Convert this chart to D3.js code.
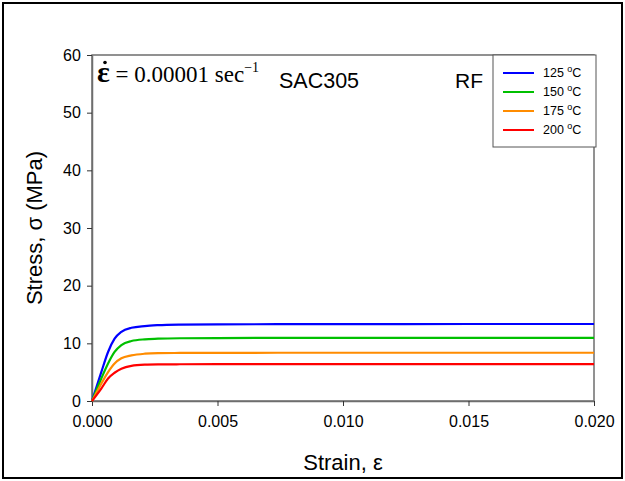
<!DOCTYPE html>
<html><head><meta charset="utf-8">
<script src="https://cdn.jsdelivr.net/npm/d3@7"></script>
<style>body{margin:0;background:#fff}svg{display:block}</style>
</head><body><svg id="c" width="625" height="481" font-family="'Liberation Sans',Arial,sans-serif"></svg>
<script>
const strain = [0, 0.00037, 0.00064, 0.0009, 0.00117, 0.00157, 0.0021, 0.00263, 0.0035, 0.005, 0.01, 0.015, 0.02];
const stress125 = [0, 5.0, 8.5, 10.8, 12.0, 12.7, 13.0, 13.15, 13.25, 13.3, 13.33, 13.35, 13.35];
const stress150 = [0, 3.9, 6.5, 8.5, 9.7, 10.4, 10.7, 10.8, 10.88, 10.92, 10.95, 10.95, 10.95];
const stress175 = [0, 3.0, 5.0, 6.5, 7.4, 7.9, 8.2, 8.3, 8.33, 8.35, 8.37, 8.37, 8.37];
const stress200 = [0, 2.15, 3.9, 4.9, 5.6, 6.1, 6.3, 6.35, 6.37, 6.38, 6.38, 6.38, 6.38];
const seriesNames = ["125", "150", "175", "200"];
const seriesColors = ["#0000ff", "#00c000", "#ff8c00", "#ff0000"];
const xTicks = [0, 0.005, 0.01, 0.015, 0.02];
const yTicks = [0, 10, 20, 30, 40, 50, 60];

const svg = d3.select("#c");
const L = 92, R = 594, T = 55, B = 401;
const x = d3.scaleLinear().domain([0, 0.02]).range([L, R]);
const y = d3.scaleLinear().domain([0, 60]).range([B, T]);
const SANS = "'Liberation Sans',Arial,sans-serif";
const SERIF = "'Liberation Serif','Times New Roman',serif";

svg.append("rect").attr("x", 3).attr("y", 3).attr("width", 619).attr("height", 475)
  .attr("fill", "none").attr("stroke", "#000").attr("stroke-width", 2);

// plot box
svg.append("rect").attr("x", L).attr("y", T).attr("width", R - L).attr("height", B - T)
  .attr("fill", "none").attr("stroke", "#6e6e6e").attr("stroke-width", 1.5);

const xAxis = svg.append("g").attr("transform", `translate(0,${B})`)
  .call(d3.axisBottom(x).tickValues(xTicks).tickFormat(d3.format(".3f")).tickSize(5).tickSizeOuter(0));
const yAxis = svg.append("g").attr("transform", `translate(${L},0)`)
  .call(d3.axisLeft(y).tickValues(yTicks).tickSize(5).tickSizeOuter(0));
[xAxis, yAxis].forEach(a => {
  a.attr("font-family", SANS).attr("font-size", 16);
  a.select(".domain").attr("stroke", "#6e6e6e").attr("stroke-width", 1.5);
  a.selectAll(".tick line").attr("stroke", "#333").attr("stroke-width", 1);
  a.selectAll(".tick text").attr("fill", "#000");
});
xAxis.selectAll(".tick text").attr("dy", "1.15em");
yAxis.selectAll(".tick text").attr("dx", "-0.2em");

const line = d3.line().x(d => x(d[0])).y(d => y(d[1])).curve(d3.curveMonotoneX);
const allSeries = [stress125, stress150, stress175, stress200];
allSeries.forEach((s, i) => {
  svg.append("path").datum(strain.map((e, j) => [e, s[j]]))
    .attr("d", line).attr("fill", "none").attr("stroke", seriesColors[i]).attr("stroke-width", 2.2);
});

// axis titles
svg.append("text").attr("x", (L + R) / 2).attr("y", 470).attr("text-anchor", "middle")
  .attr("font-size", 22).text("Strain, ε");
svg.append("text").attr("transform", "translate(42,228) rotate(-90)").attr("text-anchor", "middle")
  .attr("font-size", 22).text("Stress, σ (MPa)");

// annotations
const eq = svg.append("text").attr("x", 97).attr("y", 82).attr("font-family", SERIF).attr("font-size", 23);
eq.append("tspan").attr("font-size", 30).attr("font-weight", "bold").text("ε");
eq.append("tspan").text(" = 0.00001 sec");
eq.append("tspan").attr("font-size", 14).attr("dy", -10).text("−1");
svg.append("circle").attr("cx", 105).attr("cy", 62.5).attr("r", 1.8).attr("fill", "#000");
svg.append("text").attr("x", 279).attr("y", 88).attr("font-size", 21.5).text("SAC305");
svg.append("text").attr("x", 455).attr("y", 88).attr("font-size", 21).text("RF");

// legend
const lg = svg.append("g");
lg.append("rect").attr("x", 493).attr("y", T).attr("width", 103).attr("height", 92)
  .attr("fill", "#fff").attr("stroke", "#555").attr("stroke-width", 1);
seriesNames.forEach((n, i) => {
  const yy = 73 + i * 19;
  lg.append("line").attr("x1", 503).attr("x2", 534).attr("y1", yy).attr("y2", yy)
    .attr("stroke", seriesColors[i]).attr("stroke-width", 2);
  const t = lg.append("text").attr("x", 543).attr("y", yy + 4).attr("font-size", 12.5);
  t.append("tspan").text(n + " ");
  t.append("tspan").attr("font-size", 9).attr("dy", -5).text("o");
  t.append("tspan").attr("dy", 5).text("C");
});
</script></body></html>
